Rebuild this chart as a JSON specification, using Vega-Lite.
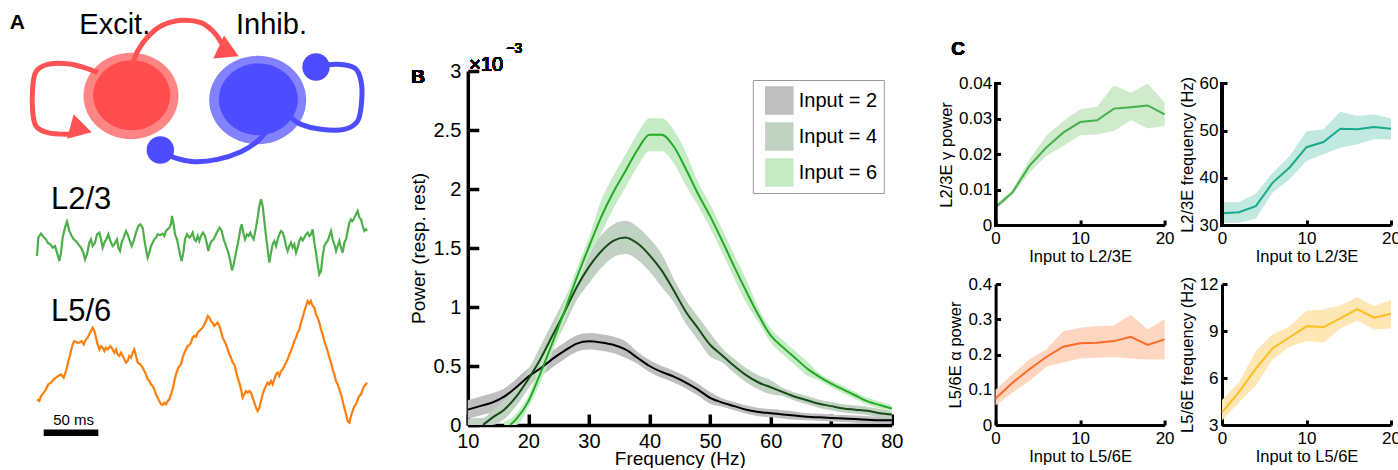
{
"$schema": "https://vega.github.io/schema/vega-lite/v6.json",
"padding": 0,
"background": "white",
"bounds": "flush",
"spacing": 103.8,
"resolve": {"scale": {"stroke": "independent", "fill": "independent", "color": "independent"}, "legend": {"stroke": "independent", "fill": "independent"}},
"config": {
 "view": {"stroke": null},
 "font": "Liberation Sans",
 "axis": {"grid": false, "domainColor": "#000000", "tickColor": "#000000", "labelColor": "#000000", "titleColor": "#000000", "titleFontWeight": "normal", "labelFlush": false, "labelOverlap": false, "labelFont": "Liberation Sans", "titleFont": "Liberation Sans"}
},
"datasets": {
 "paths": [
  {"path":"EE","i":0,"x":290,"y":215},{"path":"EE","i":1,"x":250,"y":200},{"path":"EE","i":2,"x":200,"y":188},{"path":"EE","i":3,"x":140,"y":190},{"path":"EE","i":4,"x":105,"y":212},{"path":"EE","i":5,"x":95,"y":260},{"path":"EE","i":6,"x":95,"y":330},{"path":"EE","i":7,"x":105,"y":375},{"path":"EE","i":8,"x":140,"y":395},{"path":"EE","i":9,"x":195,"y":400},{"path":"EE","i":10,"x":230,"y":396},
  {"path":"EI","i":0,"x":395,"y":190},{"path":"EI","i":1,"x":410,"y":150},{"path":"EI","i":2,"x":440,"y":108},{"path":"EI","i":3,"x":480,"y":75},{"path":"EI","i":4,"x":540,"y":58},{"path":"EI","i":5,"x":600,"y":65},{"path":"EI","i":6,"x":640,"y":95},{"path":"EI","i":7,"x":662,"y":128},
  {"path":"II","i":0,"x":865,"y":345},{"path":"II","i":1,"x":900,"y":370},{"path":"II","i":2,"x":960,"y":385},{"path":"II","i":3,"x":1030,"y":385},{"path":"II","i":4,"x":1070,"y":360},{"path":"II","i":5,"x":1082,"y":300},{"path":"II","i":6,"x":1080,"y":240},{"path":"II","i":7,"x":1062,"y":202},{"path":"II","i":8,"x":1010,"y":190},{"path":"II","i":9,"x":955,"y":195},
  {"path":"IE","i":0,"x":800,"y":385},{"path":"IE","i":1,"x":770,"y":420},{"path":"IE","i":2,"x":720,"y":452},{"path":"IE","i":3,"x":650,"y":475},{"path":"IE","i":4,"x":580,"y":482},{"path":"IE","i":5,"x":520,"y":470},{"path":"IE","i":6,"x":482,"y":450}
 ],
 "dots": [{"x":945,"y":198},{"x":478,"y":447}],
 "l23": [
  {"t":108,"v":225},{"t":112,"v":170},{"t":120,"v":158},{"t":128,"v":168},{"t":135,"v":175},{"t":140,"v":185},{"t":148,"v":190},{"t":155,"v":200},{"t":162,"v":195},{"t":168,"v":215},{"t":175,"v":240},{"t":180,"v":215},{"t":185,"v":170},{"t":192,"v":140},{"t":198,"v":122},{"t":205,"v":150},{"t":212,"v":165},{"t":218,"v":175},{"t":225,"v":180},{"t":232,"v":190},{"t":240,"v":200},{"t":247,"v":215},{"t":252,"v":235},{"t":258,"v":220},{"t":265,"v":185},{"t":270,"v":175},{"t":275,"v":195},{"t":282,"v":185},{"t":288,"v":160},{"t":295,"v":155},{"t":300,"v":175},{"t":305,"v":200},{"t":310,"v":185},{"t":318,"v":170},{"t":322,"v":160},{"t":328,"v":180},{"t":335,"v":195},{"t":340,"v":190},{"t":348,"v":175},{"t":352,"v":200},{"t":357,"v":210},{"t":362,"v":185},{"t":368,"v":170},{"t":375,"v":150},{"t":380,"v":160},{"t":385,"v":175},{"t":392,"v":195},{"t":398,"v":180},{"t":405,"v":155},{"t":412,"v":135},{"t":418,"v":130},{"t":425,"v":140},{"t":430,"v":175},{"t":435,"v":205},{"t":440,"v":230},{"t":445,"v":215},{"t":450,"v":195},{"t":455,"v":185},{"t":460,"v":175},{"t":465,"v":170},{"t":470,"v":160},{"t":478,"v":162},{"t":485,"v":158},{"t":490,"v":165},{"t":495,"v":150},{"t":500,"v":145},{"t":505,"v":140},{"t":510,"v":130},{"t":513,"v":105},{"t":518,"v":130},{"t":522,"v":160},{"t":528,"v":175},{"t":533,"v":200},{"t":538,"v":225},{"t":542,"v":240},{"t":547,"v":215},{"t":552,"v":175},{"t":558,"v":160},{"t":565,"v":170},{"t":570,"v":165},{"t":575,"v":155},{"t":580,"v":175},{"t":585,"v":180},{"t":590,"v":165},{"t":595,"v":180},{"t":600,"v":165},{"t":606,"v":155},{"t":612,"v":165},{"t":618,"v":190},{"t":622,"v":210},{"t":627,"v":190},{"t":632,"v":180},{"t":638,"v":175},{"t":645,"v":160},{"t":650,"v":150},{"t":656,"v":140},{"t":662,"v":150},{"t":668,"v":175},{"t":675,"v":195},{"t":682,"v":215},{"t":688,"v":240},{"t":693,"v":268},{"t":698,"v":250},{"t":703,"v":225},{"t":708,"v":200},{"t":713,"v":175},{"t":718,"v":145},{"t":722,"v":130},{"t":728,"v":160},{"t":732,"v":175},{"t":738,"v":160},{"t":743,"v":165},{"t":748,"v":155},{"t":752,"v":165},{"t":758,"v":175},{"t":765,"v":140},{"t":770,"v":110},{"t":775,"v":75},{"t":780,"v":55},{"t":785,"v":75},{"t":790,"v":120},{"t":795,"v":165},{"t":800,"v":205},{"t":805,"v":245},{"t":810,"v":215},{"t":815,"v":190},{"t":820,"v":180},{"t":825,"v":195},{"t":830,"v":175},{"t":835,"v":160},{"t":840,"v":150},{"t":845,"v":155},{"t":850,"v":170},{"t":855,"v":195},{"t":860,"v":210},{"t":865,"v":195},{"t":870,"v":185},{"t":875,"v":200},{"t":880,"v":190},{"t":885,"v":215},{"t":890,"v":200},{"t":895,"v":180},{"t":900,"v":170},{"t":905,"v":178},{"t":910,"v":170},{"t":915,"v":160},{"t":920,"v":155},{"t":925,"v":165},{"t":930,"v":160},{"t":935,"v":145},{"t":940,"v":185},{"t":945,"v":215},{"t":950,"v":250},{"t":955,"v":280},{"t":960,"v":270},{"t":965,"v":225},{"t":970,"v":195},{"t":975,"v":185},{"t":980,"v":180},{"t":985,"v":165},{"t":990,"v":150},{"t":995,"v":175},{"t":1000,"v":190},{"t":1005,"v":210},{"t":1010,"v":195},{"t":1015,"v":180},{"t":1020,"v":200},{"t":1025,"v":215},{"t":1030,"v":185},{"t":1035,"v":175},{"t":1040,"v":150},{"t":1045,"v":125},{"t":1050,"v":115},{"t":1055,"v":120},{"t":1060,"v":110},{"t":1065,"v":100},{"t":1070,"v":90},{"t":1075,"v":110},{"t":1080,"v":115},{"t":1085,"v":135},{"t":1090,"v":150},{"t":1095,"v":145},{"t":1098,"v":150}
 ],
 "l56": [
  {"t":108,"v":655},{"t":115,"v":660},{"t":120,"v":645},{"t":128,"v":635},{"t":135,"v":625},{"t":142,"v":610},{"t":150,"v":605},{"t":158,"v":595},{"t":165,"v":590},{"t":172,"v":585},{"t":180,"v":580},{"t":188,"v":590},{"t":195,"v":570},{"t":200,"v":550},{"t":205,"v":530},{"t":210,"v":510},{"t":215,"v":490},{"t":220,"v":480},{"t":228,"v":485},{"t":235,"v":485},{"t":242,"v":480},{"t":248,"v":490},{"t":255,"v":475},{"t":260,"v":470},{"t":265,"v":460},{"t":270,"v":450},{"t":275,"v":440},{"t":280,"v":450},{"t":285,"v":470},{"t":290,"v":490},{"t":295,"v":505},{"t":300,"v":495},{"t":305,"v":500},{"t":310,"v":510},{"t":315,"v":500},{"t":320,"v":505},{"t":328,"v":495},{"t":335,"v":505},{"t":340,"v":515},{"t":345,"v":505},{"t":350,"v":520},{"t":355,"v":525},{"t":360,"v":515},{"t":368,"v":530},{"t":375,"v":545},{"t":380,"v":540},{"t":385,"v":525},{"t":390,"v":530},{"t":395,"v":515},{"t":400,"v":505},{"t":405,"v":525},{"t":410,"v":545},{"t":418,"v":550},{"t":425,"v":560},{"t":430,"v":570},{"t":435,"v":580},{"t":440,"v":595},{"t":445,"v":600},{"t":450,"v":610},{"t":455,"v":615},{"t":460,"v":625},{"t":465,"v":640},{"t":470,"v":650},{"t":475,"v":660},{"t":480,"v":670},{"t":485,"v":672},{"t":490,"v":665},{"t":495,"v":670},{"t":500,"v":660},{"t":505,"v":655},{"t":510,"v":640},{"t":515,"v":625},{"t":520,"v":600},{"t":525,"v":580},{"t":530,"v":565},{"t":535,"v":555},{"t":540,"v":550},{"t":545,"v":530},{"t":550,"v":515},{"t":555,"v":505},{"t":560,"v":495},{"t":565,"v":492},{"t":570,"v":485},{"t":575,"v":470},{"t":580,"v":465},{"t":585,"v":468},{"t":590,"v":455},{"t":595,"v":450},{"t":600,"v":445},{"t":605,"v":440},{"t":610,"v":430},{"t":615,"v":420},{"t":620,"v":405},{"t":625,"v":410},{"t":630,"v":420},{"t":635,"v":425},{"t":640,"v":435},{"t":645,"v":430},{"t":650,"v":425},{"t":655,"v":435},{"t":660,"v":450},{"t":665,"v":470},{"t":670,"v":480},{"t":675,"v":490},{"t":680,"v":505},{"t":685,"v":520},{"t":690,"v":530},{"t":695,"v":545},{"t":700,"v":550},{"t":705,"v":570},{"t":710,"v":590},{"t":715,"v":605},{"t":720,"v":625},{"t":725,"v":650},{"t":730,"v":640},{"t":735,"v":630},{"t":740,"v":635},{"t":745,"v":630},{"t":750,"v":635},{"t":755,"v":650},{"t":760,"v":665},{"t":765,"v":680},{"t":770,"v":690},{"t":775,"v":680},{"t":780,"v":660},{"t":785,"v":640},{"t":790,"v":625},{"t":795,"v":615},{"t":800,"v":605},{"t":805,"v":610},{"t":810,"v":600},{"t":815,"v":610},{"t":820,"v":595},{"t":825,"v":580},{"t":830,"v":575},{"t":835,"v":585},{"t":840,"v":570},{"t":845,"v":565},{"t":850,"v":555},{"t":855,"v":545},{"t":860,"v":535},{"t":865,"v":520},{"t":870,"v":510},{"t":875,"v":495},{"t":880,"v":480},{"t":885,"v":470},{"t":890,"v":455},{"t":895,"v":445},{"t":900,"v":425},{"t":905,"v":410},{"t":910,"v":390},{"t":915,"v":375},{"t":920,"v":360},{"t":925,"v":368},{"t":930,"v":360},{"t":935,"v":375},{"t":940,"v":380},{"t":945,"v":400},{"t":950,"v":410},{"t":955,"v":425},{"t":960,"v":445},{"t":965,"v":460},{"t":970,"v":480},{"t":975,"v":495},{"t":980,"v":510},{"t":985,"v":530},{"t":990,"v":545},{"t":995,"v":565},{"t":1000,"v":580},{"t":1005,"v":600},{"t":1010,"v":610},{"t":1015,"v":625},{"t":1020,"v":640},{"t":1025,"v":660},{"t":1030,"v":680},{"t":1035,"v":700},{"t":1040,"v":720},{"t":1045,"v":725},{"t":1050,"v":705},{"t":1055,"v":690},{"t":1060,"v":675},{"t":1065,"v":670},{"t":1070,"v":655},{"t":1075,"v":645},{"t":1080,"v":640},{"t":1085,"v":625},{"t":1090,"v":615},{"t":1095,"v":610},{"t":1098,"v":605}
 ],
 "spec": [
  {"f":10,"input":"Input = 2","mean":0.13,"lo":0.05,"hi":0.21},{"f":12,"input":"Input = 2","mean":0.16,"lo":0.08,"hi":0.24},{"f":14,"input":"Input = 2","mean":0.19,"lo":0.11,"hi":0.27},{"f":16,"input":"Input = 2","mean":0.24,"lo":0.17,"hi":0.31},{"f":18,"input":"Input = 2","mean":0.32,"lo":0.25,"hi":0.39},{"f":20,"input":"Input = 2","mean":0.41,"lo":0.34,"hi":0.48},{"f":22,"input":"Input = 2","mean":0.48,"lo":0.41,"hi":0.55},{"f":24,"input":"Input = 2","mean":0.56,"lo":0.49,"hi":0.63},{"f":26,"input":"Input = 2","mean":0.63,"lo":0.56,"hi":0.70},{"f":28,"input":"Input = 2","mean":0.69,"lo":0.62,"hi":0.76},{"f":30,"input":"Input = 2","mean":0.71,"lo":0.64,"hi":0.78},{"f":32,"input":"Input = 2","mean":0.70,"lo":0.63,"hi":0.77},{"f":34,"input":"Input = 2","mean":0.68,"lo":0.61,"hi":0.75},{"f":36,"input":"Input = 2","mean":0.64,"lo":0.57,"hi":0.71},{"f":38,"input":"Input = 2","mean":0.57,"lo":0.52,"hi":0.62},{"f":40,"input":"Input = 2","mean":0.50,"lo":0.45,"hi":0.55},{"f":42,"input":"Input = 2","mean":0.45,"lo":0.40,"hi":0.50},{"f":44,"input":"Input = 2","mean":0.41,"lo":0.36,"hi":0.46},{"f":46,"input":"Input = 2","mean":0.36,"lo":0.31,"hi":0.41},{"f":48,"input":"Input = 2","mean":0.30,"lo":0.25,"hi":0.35},{"f":50,"input":"Input = 2","mean":0.23,"lo":0.18,"hi":0.28},{"f":52,"input":"Input = 2","mean":0.19,"lo":0.155,"hi":0.225},{"f":54,"input":"Input = 2","mean":0.16,"lo":0.125,"hi":0.195},{"f":56,"input":"Input = 2","mean":0.13,"lo":0.095,"hi":0.165},{"f":58,"input":"Input = 2","mean":0.11,"lo":0.075,"hi":0.145},{"f":60,"input":"Input = 2","mean":0.10,"lo":0.065,"hi":0.135},{"f":62,"input":"Input = 2","mean":0.09,"lo":0.055,"hi":0.125},{"f":64,"input":"Input = 2","mean":0.08,"lo":0.045,"hi":0.115},{"f":66,"input":"Input = 2","mean":0.07,"lo":0.04,"hi":0.10},{"f":68,"input":"Input = 2","mean":0.065,"lo":0.035,"hi":0.095},{"f":70,"input":"Input = 2","mean":0.06,"lo":0.03,"hi":0.09},{"f":72,"input":"Input = 2","mean":0.055,"lo":0.025,"hi":0.085},{"f":74,"input":"Input = 2","mean":0.05,"lo":0.02,"hi":0.08},{"f":76,"input":"Input = 2","mean":0.045,"lo":0.015,"hi":0.075},{"f":78,"input":"Input = 2","mean":0.04,"lo":0.01,"hi":0.07},{"f":80,"input":"Input = 2","mean":0.04,"lo":0.01,"hi":0.07},
  {"f":10,"input":"Input = 4","mean":null,"lo":0,"hi":0.05},{"f":12,"input":"Input = 4","mean":null,"lo":0,"hi":0.06},{"f":12.5,"input":"Input = 4","mean":0.0,"lo":0,"hi":0.06},{"f":14,"input":"Input = 4","mean":0.06,"lo":0.0,"hi":0.12},{"f":16,"input":"Input = 4","mean":0.13,"lo":0.05,"hi":0.21},{"f":18,"input":"Input = 4","mean":0.24,"lo":0.16,"hi":0.32},{"f":20,"input":"Input = 4","mean":0.39,"lo":0.31,"hi":0.47},{"f":22,"input":"Input = 4","mean":0.56,"lo":0.45,"hi":0.67},{"f":24,"input":"Input = 4","mean":0.76,"lo":0.65,"hi":0.87},{"f":26,"input":"Input = 4","mean":0.96,"lo":0.85,"hi":1.07},{"f":28,"input":"Input = 4","mean":1.17,"lo":1.06,"hi":1.28},{"f":30,"input":"Input = 4","mean":1.34,"lo":1.20,"hi":1.48},{"f":32,"input":"Input = 4","mean":1.47,"lo":1.33,"hi":1.61},{"f":34,"input":"Input = 4","mean":1.56,"lo":1.42,"hi":1.70},{"f":36,"input":"Input = 4","mean":1.59,"lo":1.45,"hi":1.73},{"f":38,"input":"Input = 4","mean":1.54,"lo":1.40,"hi":1.68},{"f":40,"input":"Input = 4","mean":1.44,"lo":1.30,"hi":1.58},{"f":42,"input":"Input = 4","mean":1.31,"lo":1.17,"hi":1.45},{"f":44,"input":"Input = 4","mean":1.14,"lo":1.04,"hi":1.24},{"f":46,"input":"Input = 4","mean":0.96,"lo":0.86,"hi":1.06},{"f":48,"input":"Input = 4","mean":0.82,"lo":0.72,"hi":0.92},{"f":50,"input":"Input = 4","mean":0.68,"lo":0.58,"hi":0.78},{"f":52,"input":"Input = 4","mean":0.59,"lo":0.53,"hi":0.65},{"f":54,"input":"Input = 4","mean":0.50,"lo":0.44,"hi":0.56},{"f":56,"input":"Input = 4","mean":0.42,"lo":0.36,"hi":0.48},{"f":58,"input":"Input = 4","mean":0.36,"lo":0.30,"hi":0.42},{"f":60,"input":"Input = 4","mean":0.32,"lo":0.26,"hi":0.38},{"f":62,"input":"Input = 4","mean":0.28,"lo":0.245,"hi":0.315},{"f":64,"input":"Input = 4","mean":0.24,"lo":0.205,"hi":0.275},{"f":66,"input":"Input = 4","mean":0.21,"lo":0.175,"hi":0.245},{"f":68,"input":"Input = 4","mean":0.18,"lo":0.145,"hi":0.215},{"f":70,"input":"Input = 4","mean":0.16,"lo":0.125,"hi":0.195},{"f":72,"input":"Input = 4","mean":0.14,"lo":0.105,"hi":0.175},{"f":74,"input":"Input = 4","mean":0.13,"lo":0.095,"hi":0.165},{"f":76,"input":"Input = 4","mean":0.12,"lo":0.085,"hi":0.155},{"f":78,"input":"Input = 4","mean":0.10,"lo":0.065,"hi":0.135},{"f":80,"input":"Input = 4","mean":0.09,"lo":0.055,"hi":0.125},
  {"f":16,"input":"Input = 6","mean":null,"lo":0,"hi":0.03},{"f":17,"input":"Input = 6","mean":0.0,"lo":0,"hi":0.05},{"f":18,"input":"Input = 6","mean":0.05,"lo":0,"hi":0.10},{"f":20,"input":"Input = 6","mean":0.20,"lo":0.15,"hi":0.25},{"f":22,"input":"Input = 6","mean":0.44,"lo":0.36,"hi":0.52},{"f":24,"input":"Input = 6","mean":0.70,"lo":0.62,"hi":0.78},{"f":26,"input":"Input = 6","mean":0.97,"lo":0.89,"hi":1.05},{"f":28,"input":"Input = 6","mean":1.25,"lo":1.17,"hi":1.33},{"f":30,"input":"Input = 6","mean":1.51,"lo":1.43,"hi":1.59},{"f":32,"input":"Input = 6","mean":1.76,"lo":1.62,"hi":1.90},{"f":34,"input":"Input = 6","mean":1.97,"lo":1.83,"hi":2.11},{"f":36,"input":"Input = 6","mean":2.15,"lo":2.01,"hi":2.29},{"f":38,"input":"Input = 6","mean":2.33,"lo":2.19,"hi":2.47},{"f":40,"input":"Input = 6","mean":2.46,"lo":2.32,"hi":2.60},{"f":42,"input":"Input = 6","mean":2.46,"lo":2.32,"hi":2.60},{"f":44,"input":"Input = 6","mean":2.36,"lo":2.22,"hi":2.50},{"f":46,"input":"Input = 6","mean":2.17,"lo":2.03,"hi":2.31},{"f":48,"input":"Input = 6","mean":1.96,"lo":1.86,"hi":2.06},{"f":50,"input":"Input = 6","mean":1.77,"lo":1.67,"hi":1.87},{"f":52,"input":"Input = 6","mean":1.56,"lo":1.46,"hi":1.66},{"f":54,"input":"Input = 6","mean":1.34,"lo":1.24,"hi":1.44},{"f":56,"input":"Input = 6","mean":1.13,"lo":1.03,"hi":1.23},{"f":58,"input":"Input = 6","mean":0.93,"lo":0.87,"hi":0.99},{"f":60,"input":"Input = 6","mean":0.76,"lo":0.70,"hi":0.82},{"f":62,"input":"Input = 6","mean":0.66,"lo":0.60,"hi":0.72},{"f":64,"input":"Input = 6","mean":0.57,"lo":0.51,"hi":0.63},{"f":66,"input":"Input = 6","mean":0.48,"lo":0.42,"hi":0.54},{"f":68,"input":"Input = 6","mean":0.41,"lo":0.38,"hi":0.44},{"f":70,"input":"Input = 6","mean":0.35,"lo":0.32,"hi":0.38},{"f":72,"input":"Input = 6","mean":0.30,"lo":0.27,"hi":0.33},{"f":74,"input":"Input = 6","mean":0.25,"lo":0.22,"hi":0.28},{"f":76,"input":"Input = 6","mean":0.20,"lo":0.17,"hi":0.23},{"f":78,"input":"Input = 6","mean":0.17,"lo":0.14,"hi":0.20},{"f":80,"input":"Input = 6","mean":0.14,"lo":0.11,"hi":0.17}
 ],
 "c1": [
  {"x":0,"mean":0.0050,"lo":0.0044,"hi":0.0058},{"x":2,"mean":0.0092,"lo":0.0085,"hi":0.0100},{"x":4,"mean":0.0167,"lo":0.0148,"hi":0.0186},{"x":6,"mean":0.0219,"lo":0.0195,"hi":0.0252},{"x":8,"mean":0.0261,"lo":0.0223,"hi":0.0294},{"x":10,"mean":0.0291,"lo":0.0254,"hi":0.0327},{"x":12,"mean":0.0296,"lo":0.0256,"hi":0.0334},{"x":14,"mean":0.0329,"lo":0.0266,"hi":0.0395},{"x":16,"mean":0.0333,"lo":0.0296,"hi":0.0374},{"x":18,"mean":0.0338,"lo":0.0273,"hi":0.0399},{"x":20,"mean":0.0313,"lo":0.0280,"hi":0.0346}
 ],
 "c2": [
  {"x":0,"mean":32.5,"lo":30.4,"hi":34.9},{"x":2,"mean":32.7,"lo":30.5,"hi":34.8},{"x":4,"mean":34.0,"lo":31.3,"hi":36.6},{"x":6,"mean":39.0,"lo":36.9,"hi":41.1},{"x":8,"mean":42.2,"lo":39.7,"hi":44.6},{"x":10,"mean":46.5,"lo":43.6,"hi":49.9},{"x":12,"mean":47.6,"lo":45.0,"hi":50.3},{"x":14,"mean":50.4,"lo":46.4,"hi":54.0},{"x":16,"mean":50.3,"lo":47.1,"hi":53.1},{"x":18,"mean":50.8,"lo":48.2,"hi":53.5},{"x":20,"mean":50.4,"lo":48.2,"hi":52.6}
 ],
 "c3": [
  {"x":0,"mean":0.075,"lo":0.055,"hi":0.100},{"x":2,"mean":0.120,"lo":0.092,"hi":0.144},{"x":4,"mean":0.158,"lo":0.125,"hi":0.186},{"x":6,"mean":0.193,"lo":0.165,"hi":0.215},{"x":8,"mean":0.222,"lo":0.177,"hi":0.266},{"x":10,"mean":0.232,"lo":0.189,"hi":0.276},{"x":12,"mean":0.233,"lo":0.191,"hi":0.280},{"x":14,"mean":0.238,"lo":0.193,"hi":0.282},{"x":16,"mean":0.250,"lo":0.189,"hi":0.313},{"x":18,"mean":0.227,"lo":0.186,"hi":0.271},{"x":20,"mean":0.243,"lo":0.186,"hi":0.301}
 ],
 "c4": [
  {"x":0,"mean":3.8,"lo":3.28,"hi":4.6},{"x":2,"mean":5.1,"lo":4.44,"hi":5.71},{"x":4,"mean":6.6,"lo":5.5,"hi":7.72},{"x":6,"mean":7.9,"lo":7.2,"hi":8.8},{"x":8,"mean":8.6,"lo":8.0,"hi":9.3},{"x":10,"mean":9.3,"lo":8.36,"hi":10.3},{"x":12,"mean":9.25,"lo":8.25,"hi":10.37},{"x":14,"mean":9.8,"lo":9.16,"hi":10.63},{"x":16,"mean":10.4,"lo":9.67,"hi":11.16},{"x":18,"mean":9.85,"lo":9.1,"hi":10.6},{"x":20,"mean":10.1,"lo":9.16,"hi":11.0}
 ]
},
"hconcat": [
 {
  "width": 362.7, "height": 354,
  "data": {"values": [{}]},
  "resolve": {"scale": {"y": "independent"}},
  "layer": [
   {"layer": [
    {"mark": {"type": "point", "filled": true, "opacity": 0, "size": 0.01, "strokeWidth": 0},
     "encoding": {"x": {"datum": 0, "type": "quantitative", "scale": {"domain": [0, 1088.1], "nice": false, "zero": false}, "axis": null},
                  "y": {"datum": 0, "type": "quantitative", "scale": {"domain": [1272, 210], "nice": false, "zero": false}, "axis": null}}},
    {"mark": {"type": "point", "shape": "M-1,0C-1,-0.5026,-0.5523,-0.91,0,-0.91C0.5523,-0.91,1,-0.5026,1,0C1,0.5026,0.5523,0.91,0,0.91C-0.5523,0.91,-1,0.5026,-1,0Z", "filled": true, "opacity": 1, "fill": "#ff8585", "strokeWidth": 0, "size": 9025},
     "encoding": {"x": {"datum": 390, "type": "quantitative"}, "y": {"datum": 285, "type": "quantitative"}}},
    {"mark": {"type": "point", "shape": "M-1,0C-1,-0.5026,-0.5523,-0.91,0,-0.91C0.5523,-0.91,1,-0.5026,1,0C1,0.5026,0.5523,0.91,0,0.91C-0.5523,0.91,-1,0.5026,-1,0Z", "filled": true, "opacity": 1, "fill": "#ff4d4d", "strokeWidth": 0, "size": 5929},
     "encoding": {"x": {"datum": 392, "type": "quantitative"}, "y": {"datum": 283, "type": "quantitative"}}},
    {"mark": {"type": "point", "shape": "M-1,0C-1,-0.5026,-0.5523,-0.91,0,-0.91C0.5523,-0.91,1,-0.5026,1,0C1,0.5026,0.5523,0.91,0,0.91C-0.5523,0.91,-1,0.5026,-1,0Z", "filled": true, "opacity": 1, "fill": "#8282ff", "strokeWidth": 0, "size": 9409},
     "encoding": {"x": {"datum": 770, "type": "quantitative"}, "y": {"datum": 297, "type": "quantitative"}}},
    {"mark": {"type": "point", "shape": "M-1,0C-1,-0.5026,-0.5523,-0.91,0,-0.91C0.5523,-0.91,1,-0.5026,1,0C1,0.5026,0.5523,0.91,0,0.91C-0.5523,0.91,-1,0.5026,-1,0Z", "filled": true, "opacity": 1, "fill": "#4d4dff", "strokeWidth": 0, "size": 6241},
     "encoding": {"x": {"datum": 772, "type": "quantitative"}, "y": {"datum": 295, "type": "quantitative"}}},
    {"data": {"name": "paths"},
     "mark": {"type": "line", "interpolate": "cardinal", "strokeWidth": 5, "strokeCap": "butt"},
     "encoding": {"x": {"field": "x", "type": "quantitative"}, "y": {"field": "y", "type": "quantitative"}, "order": {"field": "i"},
                  "stroke": {"field": "path", "type": "nominal", "scale": {"domain": ["EE", "EI", "II", "IE"], "range": ["#ff5252", "#ff5252", "#4d4dff", "#4d4dff"]}, "legend": null}}},
    {"mark": {"type": "point", "shape": "triangle-right", "filled": true, "opacity": 1, "fill": "#ff5252", "strokeWidth": 0, "size": 650, "angle": 15},
     "encoding": {"x": {"datum": 240, "type": "quantitative"}, "y": {"datum": 385, "type": "quantitative"}}},
    {"mark": {"type": "point", "shape": "triangle-right", "filled": true, "opacity": 1, "fill": "#ff5252", "strokeWidth": 0, "size": 650, "angle": 25},
     "encoding": {"x": {"datum": 683, "type": "quantitative"}, "y": {"datum": 152, "type": "quantitative"}}},
    {"data": {"name": "dots"},
     "mark": {"type": "point", "shape": "circle", "filled": true, "opacity": 1, "fill": "#4d4dff", "strokeWidth": 0, "size": 750},
     "encoding": {"x": {"field": "x", "type": "quantitative"}, "y": {"field": "y", "type": "quantitative"}}},
    {"mark": {"type": "text", "align": "left", "baseline": "alphabetic", "fontSize": 21, "fontWeight": "bold", "text": "A"},
     "encoding": {"x": {"datum": 26, "type": "quantitative"}, "y": {"datum": 84, "type": "quantitative"}}},
    {"mark": {"type": "text", "align": "left", "baseline": "alphabetic", "fontSize": 29, "text": "Excit."},
     "encoding": {"x": {"datum": 235, "type": "quantitative"}, "y": {"datum": 100, "type": "quantitative"}}},
    {"mark": {"type": "text", "align": "left", "baseline": "alphabetic", "fontSize": 29, "text": "Inhib."},
     "encoding": {"x": {"datum": 705, "type": "quantitative"}, "y": {"datum": 100, "type": "quantitative"}}}
   ]},
   {"layer": [
    {"data": {"name": "l23"},
     "mark": {"type": "line", "color": "#4daf4a", "strokeWidth": 2.2},
     "encoding": {"x": {"field": "t", "type": "quantitative", "axis": null},
                  "y": {"field": "v", "type": "quantitative", "scale": {"domain": [732, -330], "nice": false, "zero": false}, "axis": null}}},
    {"data": {"name": "l56"},
     "mark": {"type": "line", "color": "#ff7f0e", "strokeWidth": 2.2},
     "encoding": {"x": {"field": "t", "type": "quantitative", "axis": null}, "y": {"field": "v", "type": "quantitative", "axis": null}}},
    {"mark": {"type": "text", "align": "left", "baseline": "alphabetic", "fontSize": 31, "text": "L2/3"},
     "encoding": {"x": {"datum": 150, "type": "quantitative"}, "y": {"datum": 85, "type": "quantitative"}}},
    {"mark": {"type": "text", "align": "left", "baseline": "alphabetic", "fontSize": 31, "text": "L5/6"},
     "encoding": {"x": {"datum": 150, "type": "quantitative"}, "y": {"datum": 420, "type": "quantitative"}}},
    {"mark": {"type": "text", "align": "center", "baseline": "alphabetic", "fontSize": 15, "text": "50 ms"},
     "encoding": {"x": {"datum": 218, "type": "quantitative"}, "y": {"datum": 733, "type": "quantitative"}}},
    {"mark": {"type": "rule", "color": "#000000", "strokeWidth": 6.5},
     "encoding": {"x": {"datum": 128, "type": "quantitative"}, "x2": {"datum": 292}, "y": {"datum": 755, "type": "quantitative"}}}
   ]}
  ]
 },
 {
  "width": 424, "height": 354,
  "data": {"name": "spec"},
  "layer": [
   {"mark": {"type": "area", "interpolate": "monotone", "opacity": 1},
    "encoding": {
     "x": {"field": "f", "type": "quantitative", "title": "Frequency (Hz)", "scale": {"domain": [10, 80], "nice": false, "zero": false},
           "axis": {"values": [10, 20, 30, 40, 50, 60, 70, 80], "tickCount": 30, "format": "d", "labelOverlap": false, "labelFontSize": 20, "titleFontSize": 19, "domainWidth": 3.5, "tickWidth": 3.5, "tickSize": -11, "labelPadding": 17, "titlePadding": -2}},
     "y": {"field": "lo", "type": "quantitative", "title": "Power (resp. rest)", "scale": {"domain": [0, 3], "nice": false, "zero": false},
           "axis": {"values": [0, 0.5, 1, 1.5, 2, 2.5, 3], "tickCount": 30, "format": "~g", "labelOverlap": false, "labelFontSize": 20, "titleFontSize": 19, "domainWidth": 3.5, "tickWidth": 3.5, "tickSize": -11, "labelPadding": 18, "titlePadding": 4}},
     "y2": {"field": "hi"},
     "fill": {"field": "input", "type": "nominal", "scale": {"domain": ["Input = 2", "Input = 4", "Input = 6"], "range": ["#bfbfbf", "#c2d2c2", "#c6ecc6"]},
              "legend": {"title": null, "orient": "none", "legendX": 285, "legendY": 9, "symbolType": "square", "symbolSize": 812, "symbolStrokeWidth": 0, "symbolOpacity": 1, "symbolOffset": 6, "labelFontSize": 20, "labelColor": "#000000", "labelOffset": 5, "rowPadding": 7, "padding": 6, "strokeColor": "#999999", "fillColor": "#ffffff"}}
    }},
   {"mark": {"type": "line", "interpolate": "monotone", "strokeWidth": 2},
    "encoding": {
     "x": {"field": "f", "type": "quantitative", "title": "Frequency (Hz)"},
     "y": {"field": "mean", "type": "quantitative", "title": "Power (resp. rest)"},
     "stroke": {"field": "input", "type": "nominal", "scale": {"domain": ["Input = 2", "Input = 4", "Input = 6"], "range": ["#000000", "#174a17", "#22aa22"]}, "legend": null}
    }},
   {"mark": {"type": "text", "align": "left", "baseline": "alphabetic", "fontSize": 19, "fontWeight": "bold", "text": "B"},
    "encoding": {"x": {"datum": 0.66, "type": "quantitative", "title": "Frequency (Hz)"}, "y": {"datum": 2.898, "type": "quantitative", "title": "Power (resp. rest)"}}},
   {"mark": {"type": "text", "align": "left", "baseline": "alphabetic", "fontSize": 20, "text": "×10"},
    "encoding": {"x": {"datum": 10.25, "type": "quantitative", "title": "Frequency (Hz)"}, "y": {"datum": 3.0, "type": "quantitative", "title": "Power (resp. rest)"}}},
   {"mark": {"type": "text", "align": "left", "baseline": "alphabetic", "fontSize": 14, "text": "−3"},
    "encoding": {"x": {"datum": 16.36, "type": "quantitative", "title": "Frequency (Hz)"}, "y": {"datum": 3.153, "type": "quantitative", "title": "Power (resp. rest)"}}}
  ]
 },
 {
  "columns": 2,
  "bounds": "flush",
  "spacing": {"row": 59, "column": 57.4},
  "concat": [
   {"width": 169, "height": 154, "data": {"name": "c1"},
    "layer": [
     {"mark": {"type": "area", "color": "#d0ebcc", "opacity": 1},
      "encoding": {"x": {"field": "x", "type": "quantitative", "title": "Input to L2/3E", "scale": {"domain": [0, 20], "nice": false, "zero": false},
                         "axis": {"values": [0, 10, 20], "tickCount": 30, "format": "d", "labelOverlap": false, "labelFontSize": 17, "titleFontSize": 16.5, "domainWidth": 3, "tickWidth": 3, "tickSize": -5, "labelPadding": 10, "titlePadding": 2}},
                   "y": {"field": "lo", "type": "quantitative", "title": "L2/3E γ power", "scale": {"domain": [0, 0.04353], "nice": false, "zero": false},
                         "axis": {"values": [0, 0.01, 0.02, 0.03, 0.04], "tickCount": 30, "format": "~g", "labelOverlap": false, "domain": false, "labelFontSize": 17, "titleFontSize": 16.5, "tickWidth": 3, "tickSize": -5, "labelPadding": 9, "titlePadding": 4, "titleY": 83.4}},
                   "y2": {"field": "hi"}}},
     {"mark": {"type": "line", "color": "#44b04a", "strokeWidth": 2},
      "encoding": {"x": {"field": "x", "type": "quantitative", "title": "Input to L2/3E"}, "y": {"field": "mean", "type": "quantitative", "title": "L2/3E γ power"}}},
     {"mark": {"type": "rule", "color": "#000000", "strokeWidth": 3, "strokeCap": "square"},
      "encoding": {"x": {"datum": 0, "type": "quantitative", "title": "Input to L2/3E"}, "y": {"datum": 0, "type": "quantitative", "title": "L2/3E γ power"}, "y2": {"datum": 0.04}}},
     {"mark": {"type": "text", "align": "left", "baseline": "alphabetic", "fontSize": 19, "fontWeight": "bold", "text": "C"},
      "encoding": {"x": {"datum": -5.24, "type": "quantitative", "title": "Input to L2/3E"}, "y": {"datum": 0.0481, "type": "quantitative", "title": "L2/3E γ power"}}}
    ]},
   {"width": 169, "height": 154, "data": {"name": "c2"},
    "layer": [
     {"mark": {"type": "area", "color": "#c2e9df", "opacity": 1},
      "encoding": {"x": {"field": "x", "type": "quantitative", "title": "Input to L2/3E", "scale": {"domain": [0, 20], "nice": false, "zero": false},
                         "axis": {"values": [0, 10, 20], "tickCount": 30, "format": "d", "labelOverlap": false, "labelFontSize": 17, "titleFontSize": 16.5, "domainWidth": 3, "tickWidth": 3, "tickSize": -5, "labelPadding": 10, "titlePadding": 2}},
                   "y": {"field": "lo", "type": "quantitative", "title": "L2/3E frequency (Hz)", "scale": {"domain": [30, 62.65], "nice": false, "zero": false},
                         "axis": {"values": [30, 40, 50, 60], "tickCount": 30, "format": "d", "labelOverlap": false, "domain": false, "labelFontSize": 17, "titleFontSize": 16.5, "tickWidth": 3, "tickSize": -5, "labelPadding": 9, "titlePadding": 4, "titleY": 83.4}},
                   "y2": {"field": "hi"}}},
     {"mark": {"type": "line", "color": "#1aa88f", "strokeWidth": 2},
      "encoding": {"x": {"field": "x", "type": "quantitative", "title": "Input to L2/3E"}, "y": {"field": "mean", "type": "quantitative", "title": "L2/3E frequency (Hz)"}}},
     {"mark": {"type": "rule", "color": "#000000", "strokeWidth": 3, "strokeCap": "square"},
      "encoding": {"x": {"datum": 0, "type": "quantitative", "title": "Input to L2/3E"}, "y": {"datum": 30, "type": "quantitative", "title": "L2/3E frequency (Hz)"}, "y2": {"datum": 60}}}
    ]},
   {"width": 169, "height": 141, "data": {"name": "c3"},
    "layer": [
     {"mark": {"type": "area", "color": "#ffd6c0", "opacity": 1},
      "encoding": {"x": {"field": "x", "type": "quantitative", "title": "Input to L5/6E", "scale": {"domain": [0, 20], "nice": false, "zero": false},
                         "axis": {"values": [0, 10, 20], "tickCount": 30, "format": "d", "labelOverlap": false, "labelFontSize": 17, "titleFontSize": 16.5, "domainWidth": 3, "tickWidth": 3, "tickSize": -5, "labelPadding": 10, "titlePadding": 2}},
                   "y": {"field": "lo", "type": "quantitative", "title": "L5/6E α power", "scale": {"domain": [0, 0.4], "nice": false, "zero": false},
                         "axis": {"values": [0, 0.1, 0.2, 0.3, 0.4], "tickCount": 30, "format": "~g", "labelOverlap": false, "labelFontSize": 17, "titleFontSize": 16.5, "domainWidth": 3, "tickWidth": 3, "tickSize": -5, "labelPadding": 9, "titlePadding": 4}},
                   "y2": {"field": "hi"}}},
     {"mark": {"type": "line", "color": "#ff6a28", "strokeWidth": 2},
      "encoding": {"x": {"field": "x", "type": "quantitative", "title": "Input to L5/6E"}, "y": {"field": "mean", "type": "quantitative", "title": "L5/6E α power"}}}
    ]},
   {"width": 169, "height": 141, "data": {"name": "c4"},
    "layer": [
     {"mark": {"type": "area", "color": "#ffe7b5", "opacity": 1},
      "encoding": {"x": {"field": "x", "type": "quantitative", "title": "Input to L5/6E", "scale": {"domain": [0, 20], "nice": false, "zero": false},
                         "axis": {"values": [0, 10, 20], "tickCount": 30, "format": "d", "labelOverlap": false, "labelFontSize": 17, "titleFontSize": 16.5, "domainWidth": 3, "tickWidth": 3, "tickSize": -5, "labelPadding": 10, "titlePadding": 2}},
                   "y": {"field": "lo", "type": "quantitative", "title": "L5/6E frequency (Hz)", "scale": {"domain": [3, 12], "nice": false, "zero": false},
                         "axis": {"values": [3, 6, 9, 12], "tickCount": 30, "format": "d", "labelOverlap": false, "labelFontSize": 17, "titleFontSize": 16.5, "domainWidth": 3, "tickWidth": 3, "tickSize": -5, "labelPadding": 9, "titlePadding": 4}},
                   "y2": {"field": "hi"}}},
     {"mark": {"type": "line", "color": "#ffbd1f", "strokeWidth": 2},
      "encoding": {"x": {"field": "x", "type": "quantitative", "title": "Input to L5/6E"}, "y": {"field": "mean", "type": "quantitative", "title": "L5/6E frequency (Hz)"}}}
    ]}
  ]
 }
]
}
